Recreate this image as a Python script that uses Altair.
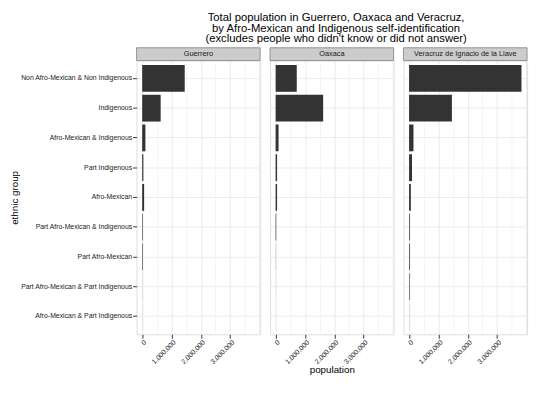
import altair as alt
import pandas as pd

groups = [
    "Non Afro-Mexican & Non Indigenous",
    "Indigenous",
    "Afro-Mexican & Indigenous",
    "Part Indigenous",
    "Afro-Mexican",
    "Part Afro-Mexican & Indigenous",
    "Part Afro-Mexican",
    "Part Afro-Mexican & Part Indigenous",
    "Afro-Mexican & Part Indigenous",
]
states = ["Guerrero", "Oaxaca", "Veracruz de Ignacio de la Llave"]
guerrero = [1450000, 630000, 110000, 40000, 67000, 20000, 20000, 3000, 2000]
oaxaca = [720000, 1620000, 100000, 50000, 50000, 20000, 5000, 2000, 1000]
veracruz = [3830000, 1460000, 150000, 100000, 60000, 25000, 25000, 20000, 3000]
x_ticks = [0, 1000000, 2000000, 3000000]

series = [guerrero, oaxaca, veracruz]
vmax = max(max(s) for s in series)
domain = [-0.05 * vmax, 1.05 * vmax]
grid_vals = [i * 500000 for i in range(0, 9)]
major_test = "indexof([" + ",".join(str(v) for v in x_ticks) + "], datum.value) >= 0"

FONT = "Liberation Sans"
PW, PH = 126, 279

panels = []
for i, (st, vals) in enumerate(zip(states, series)):
    df = pd.DataFrame({"group": groups, "population": vals, "state": st})
    first = i == 0
    middle = i == 1
    xaxis = alt.Axis(
        values=grid_vals,
        labelExpr=major_test + " ? format(datum.value, ',') : ''",
        labelAngle=-45,
        labelAlign="right",
        labelBaseline="top",
        labelFontSize=7,
        labelColor="#222222",
        labelFont=FONT,
        labelPadding=0,
        labelOverlap=False,
        labelFlush=False,
        ticks=True,
        tickSize=4,
        tickColor="#333333",
        tickOpacity={"condition": {"test": major_test, "value": 1}, "value": 0},
        grid=True,
        gridColor={"condition": {"test": "datum.value % 1000000 === 0", "value": "#ebebeb"}, "value": "#f5f5f5"},
        domain=False,
        title="population" if middle else None,
        titleFont=FONT,
        titleFontSize=10,
        titleFontWeight="normal",
        titleColor="#000000",
        titlePadding=0,
    )
    if first:
        yaxis = alt.Axis(
            labelFontSize=7,
            labelColor="#222222",
            labelFont=FONT,
            labelPadding=1,
            ticks=True,
            tickSize=4,
            tickColor="#333333",
            bandPosition=0.5,
            grid=True,
            gridColor="#ebebeb",
            domain=False,
            title="ethnic group",
            titleFont=FONT,
            titleFontSize=10,
            titleFontWeight="normal",
            titleColor="#000000",
            titlePadding=1,
        )
    else:
        yaxis = alt.Axis(
            labels=False, ticks=False, domain=False, title=None,
            grid=True, gridColor="#ebebeb", bandPosition=0.5,
        )
    bars = alt.Chart(df).mark_bar(color="#333333").encode(
        x=alt.X("population:Q", scale=alt.Scale(domain=domain, nice=False, zero=False), axis=xaxis),
        y=alt.Y("group:N", sort=groups,
                scale=alt.Scale(paddingInner=0.1, paddingOuter=0.15), axis=yaxis),
    )
    sdf = pd.DataFrame({"state": [st]})
    strip = alt.Chart(sdf).mark_rect(fill="#cccccc", stroke="#7f7f7f", strokeWidth=0.8).encode(
        x=alt.value(0), x2=alt.value(PW), y=alt.value(-13), y2=alt.value(0)
    )
    label = alt.Chart(sdf).mark_text(font=FONT, fontSize=7.5, color="#1a1a1a", baseline="middle").encode(
        x=alt.value(PW / 2), y=alt.value(-6.5), text="state:N"
    )
    panels.append(alt.layer(bars, strip, label).properties(width=PW, height=PH))

chart = alt.hconcat(*panels, spacing=4).properties(
    title=alt.Title(
        ["Total population in Guerrero, Oaxaca and Veracruz,",
         "by Afro-Mexican and Indigenous self-identification",
         "(excludes people who didn't know or did not answer)"],
        font=FONT, fontSize=11.5, fontWeight="normal", color="#000000",
        anchor="middle", lineHeight=11, offset=2, dx=67,
    ),
    padding={"left": 0, "top": 0, "right": 0, "bottom": 0},
).configure_view(stroke="#7f7f7f", strokeWidth=1).configure(background="white")

chart.save("out.html", embed_options={"renderer": "svg", "actions": False})
